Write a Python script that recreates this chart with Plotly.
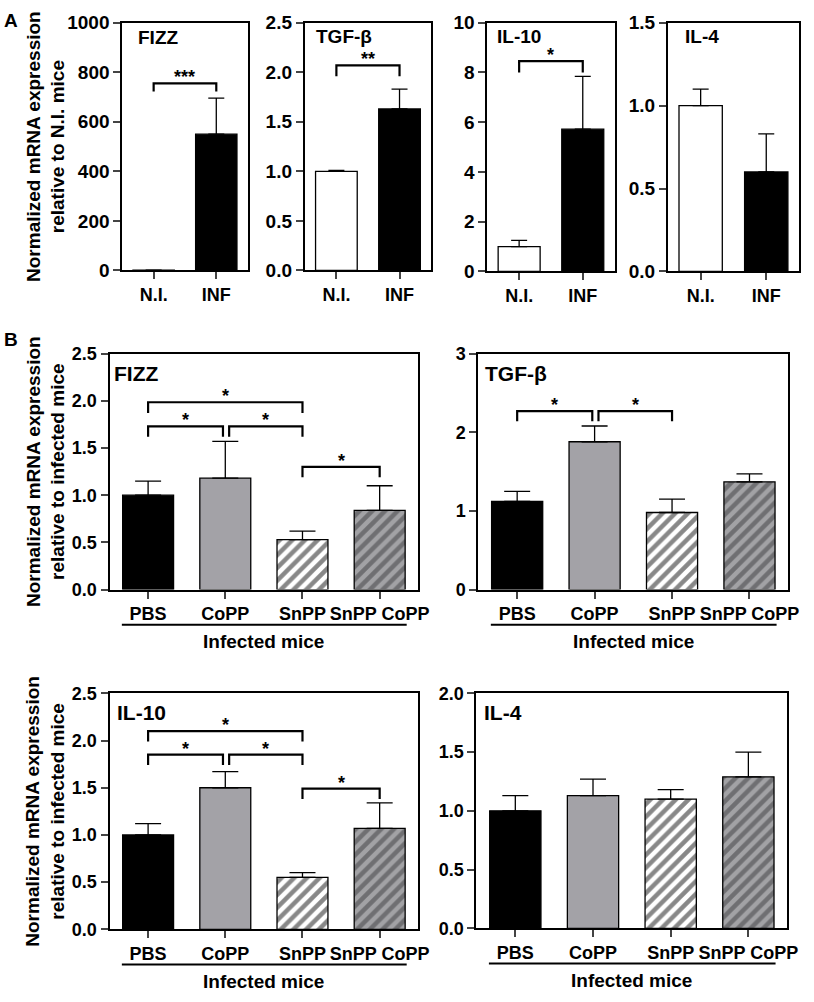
import plotly.graph_objects as go

W, H = 814, 1002
FONT = "Arial, 'Liberation Sans', sans-serif"

# ---- panel A data (N.I. vs infected) ----
a_groups = ["N.I.", "INF"]
a_fizz = [1.0, 550]
a_fizz_err = [0.0, 146]
a_tgf = [1.0, 1.63]
a_tgf_err = [0.01, 0.20]
a_il10 = [1.0, 5.72]
a_il10_err = [0.25, 2.12]
a_il4 = [1.0, 0.60]
a_il4_err = [0.10, 0.23]

# ---- panel B data (infected mice, treatments) ----
b_groups = ["PBS", "CoPP", "SnPP", "SnPP CoPP"]
b_fizz = [1.0, 1.18, 0.53, 0.84]
b_fizz_err = [0.15, 0.39, 0.09, 0.26]
b_tgf = [1.12, 1.88, 0.98, 1.37]
b_tgf_err = [0.13, 0.20, 0.17, 0.10]
b_il10 = [1.0, 1.50, 0.55, 1.07]
b_il10_err = [0.12, 0.17, 0.05, 0.27]
b_il4 = [1.0, 1.13, 1.10, 1.29]
b_il4_err = [0.13, 0.14, 0.08, 0.21]

# significance brackets: (group i, group j, bar height, leg end, label)
a_fizz_sig = [(0, 1, 755, 722, "***")]
a_tgf_sig = [(0, 1, 2.07, 1.96, "**")]
a_il10_sig = [(0, 1, 8.46, 8.0, "*")]
b_fizz_sig = [(0, 2, 1.985, 1.87, "*"), (0, 1, 1.73, 1.62, "*"),
              (1, 2, 1.73, 1.62, "*"), (2, 3, 1.30, 1.19, "*")]
b_tgf_sig = [(0, 1, 2.27, 2.14, "*"), (1, 2, 2.27, 2.14, "*")]
b_il10_sig = [(0, 2, 2.10, 1.99, "*"), (0, 1, 1.85, 1.74, "*"),
              (1, 2, 1.85, 1.74, "*"), (2, 3, 1.49, 1.38, "*")]

a_styles = [dict(color="white"), dict(color="black")]
b_styles = [
    dict(color="black"),
    dict(color="#a3a2a7"),
    dict(color="white", pattern=dict(shape="/", fgcolor="#111111", bgcolor="white", size=9, solidity=0.5)),
    dict(color="#a2a2a5", pattern=dict(shape="/", fgcolor="#3c3c3f", bgcolor="#a2a2a5", size=9, solidity=0.5)),
]

# plot boxes in pixels: left, right, top, bottom
panels = [
    # name, groups, values, errors, sigs, styles, box, ymax, dtick, fmt, title dx, title dy, cap
    ("FIZZ", a_groups, a_fizz, a_fizz_err, a_fizz_sig, a_styles, (124, 251, 13, 266), 1000, 200, "d", 14, 15, 8),
    ("TGF-β", a_groups, a_tgf, a_tgf_err, a_tgf_sig, a_styles, (309, 437, 13, 266), 2.5, 0.5, ".1f", 9, 14, 8),
    ("IL-10", a_groups, a_il10, a_il10_err, a_il10_sig, a_styles, (494, 623, 13, 267), 10, 2, "d", 8, 14, 8),
    ("IL-4", a_groups, a_il4, a_il4_err, [], a_styles, (677, 810, 13, 267), 1.5, 0.5, ".1f", 15, 14, 8),
    ("FIZZ", b_groups, b_fizz, b_fizz_err, b_fizz_sig, b_styles, (111, 424, 351, 592), 2.5, 0.5, ".1f", 3, 20, 13),
    ("TGF-β", b_groups, b_tgf, b_tgf_err, b_tgf_sig, b_styles, (485, 799, 351, 592), 3, 1, "d", 5, 20, 13),
    ("IL-10", b_groups, b_il10, b_il10_err, b_il10_sig, b_styles, (111, 424, 698, 939), 2.5, 0.5, ".1f", 6, 20, 13),
    ("IL-4", b_groups, b_il4, b_il4_err, [], b_styles, (483, 798, 698, 938), 2.0, 0.5, ".1f", 6, 20, 13),
]

fig = go.Figure()
shapes, annos = [], []
layout = {}

for k, (name, groups, vals, errs, sigs, styles, box, ymax, dtick, fmt, toff, tyoff, capw) in enumerate(panels):
    n = k + 1
    xa = "x" if n == 1 else f"x{n}"
    ya = "y" if n == 1 else f"y{n}"
    l, r, t, b = box
    xs = list(range(len(groups)))
    for i in xs:
        fig.add_trace(go.Bar(
            x=[i], y=[vals[i]], xaxis=xa, yaxis=ya, width=0.66,
            marker=dict(**styles[i], line=dict(color="black", width=1.3)),
            error_y=dict(type="data", array=[errs[i]], arrayminus=[0], symmetric=False,
                         color="black", thickness=1.3, width=capw),
            showlegend=False, hoverinfo="y",
        ))
    xfont = dict(family=FONT, size=18, color="black", weight="bold")
    yfont = dict(family=FONT, size=19 if len(groups) == 2 else 18, color="black", weight="bold")
    layout[("xaxis" if n == 1 else f"xaxis{n}")] = dict(
        domain=[l / W, r / W], anchor=ya, range=[-0.5, len(groups) - 0.5],
        tickvals=xs, ticktext=groups, ticks="outside", ticklen=7, tickwidth=2,
        showline=True, linewidth=2, linecolor="black", mirror=True,
        showgrid=False, zeroline=False, tickfont=xfont, fixedrange=True,
    )
    layout[("yaxis" if n == 1 else f"yaxis{n}")] = dict(
        domain=[1 - b / H, 1 - t / H], anchor=xa, range=[0, ymax], dtick=dtick,
        tickformat=fmt, ticks="outside", ticklen=7, tickwidth=2,
        showline=True, linewidth=2, linecolor="black", mirror=True,
        showgrid=False, zeroline=False, tickfont=yfont, fixedrange=True,
    )
    # panel title
    annos.append(dict(xref="paper", yref="paper", x=(l + toff) / W, y=1 - (t + tyoff) / H,
                      xanchor="left", yanchor="middle", showarrow=False, text=name,
                      font=dict(family=FONT, size=19 if len(groups) == 2 else 21,
                                color="black", weight="bold")))
    # significance brackets
    ends = {}
    for (i, j, hy, leg, lab) in sigs:
        ends.setdefault(hy, []).append((i, j))
    for (i, j, hy, leg, lab) in sigs:
        x0, x1 = i, j
        same = ends[hy]
        if any(p[0] == j for p in same if p != (i, j)):
            x1 -= 0.03
        if any(p[1] == i for p in same if p != (i, j)):
            x0 += 0.05
        shapes.append(dict(type="path", xref=xa, yref=ya,
                           path=f"M {x0} {leg} L {x0} {hy} L {x1} {hy} L {x1} {leg}",
                           line=dict(color="black", width=2.2)))
        annos.append(dict(xref=xa, yref=ya, x=(x0 + x1) / 2, y=hy, yanchor="bottom",
                          showarrow=False, text=lab, yshift=-6,
                          font=dict(family=FONT, size=18, color="black", weight="bold")))
    # group underline for panel B
    if len(groups) == 4:
        shapes.append(dict(type="line", xref=xa, yref="paper", x0=-0.34, x1=3.35,
                           y0=1 - (b + 36) / H, y1=1 - (b + 36) / H,
                           line=dict(color="black", width=2)))
        annos.append(dict(xref=xa, yref="paper", x=1.5, y=1 - (b + 53) / H,
                          yanchor="middle", showarrow=False, text="Infected mice",
                          font=dict(family=FONT, size=19, color="black", weight="bold")))

# y axis titles
ytitles = [
    ("Normalized mRNA expression<br>relative to N.I. mice", 139.5),
    ("Normalized mRNA expression<br>relative to infected mice", 471.5),
    ("Normalized mRNA expression<br>relative to infected mice", 818.5),
]
for txt, yc in ytitles:
    annos.append(dict(xref="paper", yref="paper", x=46 / W, y=1 - yc / H, textangle=-90,
                      xanchor="center", yanchor="middle", showarrow=False, text=txt,
                      font=dict(family=FONT, size=19, color="black", weight="bold")))

# panel letters
for letter, yc in [("A", 11), ("B", 337)]:
    annos.append(dict(xref="paper", yref="paper", x=2 / W, y=1 - yc / H, xanchor="left",
                      yanchor="middle", showarrow=False, text=letter,
                      font=dict(family=FONT, size=19, color="black", weight="bold")))

fig.update_layout(
    width=W, height=H, margin=dict(l=0, r=0, t=0, b=0),
    paper_bgcolor="white", plot_bgcolor="white",
    barmode="overlay", shapes=shapes, annotations=annos, **layout,
)

# page body has a default 8px margin; drop it so the figure sits at the window origin
fig.write_html("out.html", config={"displayModeBar": False},
               post_script="document.body.style.margin='0px';")
